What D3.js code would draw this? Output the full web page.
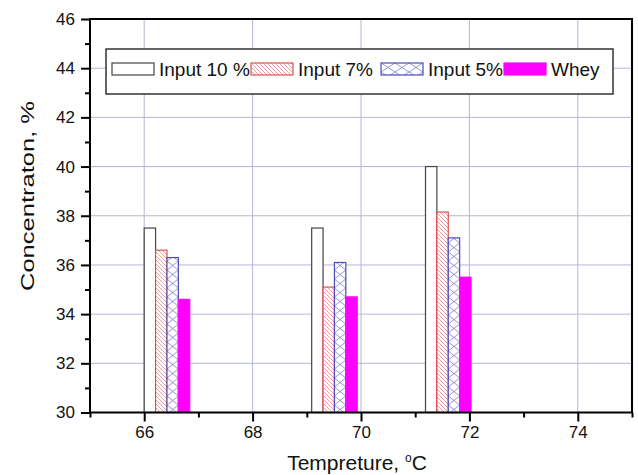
<!DOCTYPE html>
<html lang="en">
<head>
  <meta charset="UTF-8">
  <title>Concentration vs temperature</title>
  <script src="https://d3js.org/d3.v7.min.js"></script>
  <style>
    body { margin: 0; background: #fff; }
    text { font-family: "Liberation Sans", Arial, sans-serif; fill: #111; }
  </style>
</head>
<body>
  <div id="chart"></div>
  <script type="text/javascript">
    // data
    var groupTemps = [66.42, 69.51, 71.61];   // centre of each bar group, degC
    var seriesNames = ["Input 10 %", "Input 7%", "Input 5%", "Whey"];
    var input10 = [37.5, 37.5, 40.0];
    var input7 = [36.6, 35.1, 38.15];
    var input5 = [36.3, 36.1, 37.1];
    var whey = [34.6, 34.7, 35.5];
    var xTicks = [66, 68, 70, 72, 74];
    var yTicks = [30, 32, 34, 36, 38, 40, 42, 44, 46];

    var seriesValues = [input10, input7, input5, whey];

    var W = 638, H = 475;
    var svg = d3.select("#chart").append("svg")
      .attr("width", W).attr("height", H);

    var x = d3.scaleLinear().domain([65, 75]).range([90, 632]);
    var y = d3.scaleLinear().domain([30, 46]).range([412.5, 19]);
    var barW = x(65.21) - x(65);  // bar width in data units -> px

    var defs = svg.append("defs");

    // red diagonal hatch for Input 7%
    var hatch = defs.append("pattern")
      .attr("id", "hatch7")
      .attr("patternUnits", "userSpaceOnUse")
      .attr("width", 4).attr("height", 4);
    hatch.append("rect").attr("width", 4).attr("height", 4).attr("fill", "#fff");
    hatch.append("path")
      .attr("d", "M-1,-1L5,5M-1,3L1,5M3,-1L5,1")
      .attr("stroke", "#e38a86").attr("stroke-width", 0.8);

    // blue cross hatch for Input 5%, one per bar so the diamonds line up
    function crossPattern(id, x0, w) {
      var p = defs.append("pattern")
        .attr("id", id)
        .attr("patternUnits", "userSpaceOnUse")
        .attr("x", x0).attr("y", 0)
        .attr("width", w).attr("height", 9);
      p.append("rect").attr("width", w).attr("height", 9).attr("fill", "#fff");
      p.append("path")
        .attr("d", "M0,0L" + w + ",9M" + w + ",0L0,9")
        .attr("stroke", "#7a7ad0").attr("stroke-width", 0.8);
    }

    var strokes = ["#444", "#d9534f", "#4b4bb8", "#ff00ff"];

    // grid
    var grid = svg.append("g");
    grid.selectAll(".vg").data(xTicks).enter().append("line")
      .attr("x1", d => x(d)).attr("x2", d => x(d))
      .attr("y1", y(46)).attr("y2", y(30))
      .attr("stroke", "#b4b4dc").attr("stroke-width", 1);
    grid.selectAll(".hg").data(yTicks.filter(d => d > 30 && d < 46)).enter().append("line")
      .attr("x1", x(65)).attr("x2", x(75))
      .attr("y1", d => y(d)).attr("y2", d => y(d))
      .attr("stroke", "#b4b4dc").attr("stroke-width", 1);

    // bars
    var bars = svg.append("g");
    seriesValues.forEach(function (vals, s) {
      vals.forEach(function (v, g) {
        var bx = x(groupTemps[g]) - 2 * barW + s * barW;
        var fill;
        if (s === 0) fill = "#fff";
        else if (s === 1) fill = "url(#hatch7)";
        else if (s === 2) {
          crossPattern("cross" + g, bx, barW);
          fill = "url(#cross" + g + ")";
        } else fill = "#ff00ff";
        bars.append("rect")
          .attr("x", bx).attr("y", y(v))
          .attr("width", barW).attr("height", y(30) - y(v))
          .attr("fill", fill)
          .attr("stroke", strokes[s]).attr("stroke-width", 1.2);
      });
    });

    // axes
    var xAxis = d3.axisBottom(x).tickValues(xTicks).tickSize(9).tickFormat(d3.format("d"));
    var xMinor = d3.axisBottom(x).tickValues(d3.range(65, 76, 1).filter(d => d % 2 === 1)).tickSize(5).tickFormat("");
    var yAxis = d3.axisLeft(y).tickValues(yTicks).tickSize(9).tickFormat(d3.format("d"));
    var yMinor = d3.axisLeft(y).tickValues(d3.range(31, 46, 2)).tickSize(5).tickFormat("");

    function styleAxis(g) {
      g.select(".domain").remove();
      g.selectAll(".tick line").attr("stroke", "#000").attr("stroke-width", 2);
      g.selectAll(".tick text").style("font-size", "17px").attr("fill", "#111")
        .style("font-family", "Liberation Sans, Arial, sans-serif");
    }

    svg.append("g").attr("transform", "translate(0," + y(30) + ")").call(xAxis).call(styleAxis)
      .selectAll(".tick text").attr("y", 13);
    svg.append("g").attr("transform", "translate(0," + y(30) + ")").call(xMinor).call(styleAxis);
    svg.append("g").attr("transform", "translate(" + x(65) + ",0)").call(yAxis).call(styleAxis)
      .selectAll(".tick text").attr("x", -15);
    svg.append("g").attr("transform", "translate(" + x(65) + ",0)").call(yMinor).call(styleAxis);

    // frame
    svg.append("rect")
      .attr("x", x(65)).attr("y", y(46))
      .attr("width", x(75) - x(65)).attr("height", y(30) - y(46))
      .attr("fill", "none").attr("stroke", "#000").attr("stroke-width", 2);

    // axis titles
    svg.append("text")
      .attr("x", 357).attr("y", 470)
      .attr("text-anchor", "middle")
      .style("font-size", "21px")
      .html('Tempreture, <tspan dy="-8" style="font-size:12px">o</tspan><tspan dy="8">C</tspan>');

    svg.append("text")
      .attr("transform", "translate(34,196) rotate(-90)")
      .attr("text-anchor", "middle")
      .attr("textLength", 190)
      .attr("lengthAdjust", "spacingAndGlyphs")
      .style("font-size", "19px")
      .text("Concentraton, %");

    // legend
    var legend = svg.append("g");
    legend.append("rect")
      .attr("x", 106).attr("y", 49).attr("width", 507).attr("height", 45)
      .attr("fill", "#fff").attr("stroke", "#333").attr("stroke-width", 1.5);

    var swatchX = [112, 251, 381, 504];
    seriesNames.forEach(function (name, s) {
      var sx = swatchX[s];
      var fill;
      if (s === 0) fill = "#fff";
      else if (s === 1) fill = "url(#hatch7)";
      else if (s === 2) {
        crossPattern("crossLeg", sx, 14);
        fill = "url(#crossLeg)";
      } else fill = "#ff00ff";
      legend.append("rect")
        .attr("x", sx).attr("y", 63).attr("width", 42).attr("height", 12)
        .attr("fill", fill)
        .attr("stroke", strokes[s]).attr("stroke-width", 1.2);
      legend.append("text")
        .attr("x", sx + 47).attr("y", 76)
        .style("font-size", "19px")
        .text(name);
    });
  </script>
</body>
</html>
